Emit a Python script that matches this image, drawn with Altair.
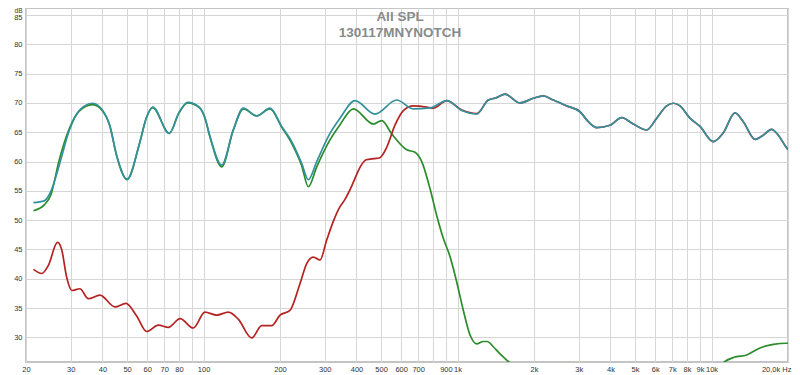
import altair as alt
import pandas as pd

# ---- data ----
sum_freq = [21.4, 23.6, 25.1, 27.0, 29.6, 32.4, 36.6, 40.1, 42.7, 45.5, 50.0, 55.9, 59.7, 63.1,
            73.3, 80.0, 86.6, 96.2, 101, 106, 117.9, 131, 143.4, 161.9, 182.7, 203, 222.4,
            243.4, 258.6, 279, 314.6, 344.6, 394.8, 473, 576, 668, 779, 907, 1040, 1190,
            1322, 1426, 1538, 1762, 1988, 2176, 2382, 2690, 3035, 3272, 3532, 3984, 4428,
            4920, 5556, 6082, 6662, 7072, 7513, 8228, 9008, 10160, 11126, 12368, 13336,
            14832, 15758, 17256, 18316, 19766, 20000]
sum_db = [53.0, 53.3, 55.0, 59.3, 65.3, 68.7, 69.95, 68.7, 66.2, 61.0, 57.0, 63.0, 67.6, 69.3,
          64.8, 68.3, 70.1, 69.3, 67.6, 64.3, 59.4, 65.4, 69.1, 67.8, 69.1, 66.0, 63.4,
          59.7, 56.9, 60.0, 64.8, 67.4, 70.4, 68.1, 70.5, 69.0, 69.15, 70.4, 68.7, 68.1,
          70.5, 70.9, 71.5, 70.0, 70.8, 71.2, 70.5, 69.5, 68.5, 66.8, 65.8, 66.2, 67.5,
          66.4, 65.4, 67.4, 69.5, 69.95, 69.5, 67.4, 66.0, 63.4, 64.9, 68.3, 66.8,
          63.8, 64.3, 65.5, 64.5, 62.3, 62.0]

red_freq = [21.4, 23.1, 24.5, 26.6, 27.6, 28.9, 30.3, 32.6, 35.2, 39.1, 44.8, 49.5, 54.6, 59.7,
            66.4, 72.7, 80.8, 91.1, 101.3, 112.7, 125.2, 137, 154.7, 169.4, 185.5, 200, 219,
            239.8, 254.8, 270.5, 287.4, 305.4, 324.3, 344.6, 360, 383, 398, 413, 437, 470,
            492, 526, 567, 612, 670, 756, 803, 907, 1040, 1190, 1322, 1426, 1538, 1762,
            1988, 2176, 2382, 2690, 3035, 3272, 3532, 3984, 4428, 4920, 5556, 6082, 6662,
            7072, 7513, 8228, 9008, 10160, 11126, 12368, 13336, 14832, 15758, 17256, 18316,
            19766, 20000]
red_db = [41.6, 40.9, 42.3, 46.2, 45.1, 40.3, 38.0, 38.3, 36.6, 37.2, 35.2, 35.8, 33.6, 31.0,
          32.1, 31.7, 33.2, 31.6, 34.3, 33.8, 34.3, 33.1, 29.9, 32.0, 32.0, 33.8, 34.6,
          39.2, 42.6, 43.7, 43.2, 46.6, 49.8, 52.3, 53.5, 55.8, 57.5, 59.0, 60.3, 60.5,
          60.6, 62.4, 66.2, 68.7, 69.5, 69.3, 69.1, 70.4, 68.8, 68.2, 70.5, 70.9, 71.5,
          70.0, 70.8, 71.2, 70.5, 69.5, 68.5, 66.8, 65.8, 66.2, 67.5, 66.4, 65.4, 67.4,
          69.5, 69.95, 69.5, 67.4, 66.0, 63.4, 64.9, 68.3, 66.8, 63.8, 64.3, 65.5, 64.5,
          62.3, 62.0]

green_freq = [21.4, 23.6, 25.1, 27.0, 29.6, 32.4, 36.6, 40.1, 42.7, 45.5, 50.0, 55.9, 59.7,
              63.1, 73.3, 80.0, 86.6, 96.2, 101, 106, 117.9, 131, 143.4, 161.9, 182.7, 203,
              222.4, 243.4, 258.6, 279, 314.6, 344.6, 389, 466, 503, 551, 631, 680, 723,
              779, 828, 879, 934, 992, 1054, 1120, 1190, 1260, 1310, 1383, 1460, 1584, 1800,
              2500, 4000, 6000, 8000, 10000, 11298, 12260, 13756, 15516, 17508, 19766, 20000]
green_db = [51.6, 52.6, 54.4, 60.2, 65.6, 68.6, 69.7, 68.6, 66.2, 61.0, 56.9, 63.0, 67.6,
            69.2, 64.8, 68.3, 70.0, 69.2, 67.6, 64.2, 59.1, 65.4, 69.0, 67.8, 69.0, 65.9,
            63.1, 59.3, 55.7, 59.1, 63.7, 66.3, 69.0, 66.4, 67.0, 64.7, 62.0, 61.6, 60.0,
            55.4, 50.8, 46.9, 43.8, 39.5, 34.6, 30.4, 28.9, 29.3, 29.3, 28.4, 27.3, 25.9, 23.5,
            20.5, 18.5, 18.5, 20.5, 23.5, 25.9, 26.6, 27.0, 28.2, 28.8, 29.0, 29.0]

x_ticks = [20, 30, 40, 50, 60, 70, 80, 90, 100, 200, 300, 400, 500, 600, 700, 800, 900,
           1000, 2000, 3000, 4000, 5000, 6000, 7000, 8000, 9000, 10000, 20000]
y_ticks = [30, 35, 40, 45, 50, 55, 60, 65, 70, 75, 80, 85]
title_lines = ["All SPL", "130117MNYNOTCH"]

TEAL = "#33909c"
RED = "#b52222"
GREEN = "#2a8c2a"

df_sum = pd.DataFrame({"freq": sum_freq, "db": sum_db})
df_red = pd.DataFrame({"freq": red_freq, "db": red_db})
df_green = pd.DataFrame({"freq": green_freq, "db": green_db})
df_title = pd.DataFrame({"t": ["\n".join(title_lines)]})

label_expr = ("datum.value == 20000 ? '20,0k Hz' : "
              "(datum.value == 90 || datum.value == 800) ? '' : "
              "datum.value >= 1000 ? (datum.value / 1000) + 'k' : datum.value + ''")

x_enc = alt.X("freq:Q",
              scale=alt.Scale(type="log", domain=[20, 20000], nice=False),
              axis=alt.Axis(values=x_ticks, labelExpr=label_expr, labelOverlap=False,
                            grid=True, ticks=False, domain=False, title=None,
                            labelFlush=False, labelPadding=3,
                            labelAlign={"condition": {"test": "datum.value >= 20000",
                                                      "value": "right"},
                                        "value": "center"},
                            labelOffset={"condition": {"test": "datum.value >= 20000",
                                                       "value": 3},
                                         "value": 0}))
y_enc = alt.Y("db:Q",
              scale=alt.Scale(domain=[25.8, 86.2], nice=False, zero=False),
              axis=alt.Axis(values=y_ticks, grid=True, ticks=False, domain=False,
                            title="dB", titleAngle=0, titleX=-8, titleY=4.5,
                            titleAlign="center", titleBaseline="alphabetic",
                            titleFontSize=6.5, titleFontWeight="normal", titleColor="#333",
                            labelPadding=4,
                            labelOffset={"condition": {"test": "datum.value >= 85",
                                                       "value": 2.5},
                                         "value": 0}))


def line(df, color):
    return alt.Chart(df).mark_line(color=color, strokeWidth=1.7, interpolate="monotone",
                                   clip=True).encode(x=x_enc, y=y_enc)


title = alt.Chart(df_title).mark_text(
    font="Liberation Sans", fontSize=13.5, fontWeight="bold", color="#8a8a8a",
    align="center", baseline="alphabetic", lineBreak="\n", lineHeight=16.5,
).encode(text="t:N", x=alt.value(374), y=alt.value(12.5))

chart = alt.layer(
    line(df_green, GREEN),
    line(df_red, RED),
    line(df_sum, TEAL),
    title,
).properties(
    width=762,
    height=354,
    autosize=alt.AutoSizeParams(type="none"),
    padding={"left": 18, "top": 0, "right": 4, "bottom": 13},
    background="white",
).configure_axis(
    gridColor="#d6d6d6",
    gridWidth=1,
    labelFont="Liberation Sans",
    labelFontSize=7.5,
    labelColor="#333333",
    titleFont="Liberation Sans",
).configure_view(
    stroke="#c4c4c4",
    strokeWidth=2,
)

chart.save("out.html", embed_options={"renderer": "svg", "actions": False})
